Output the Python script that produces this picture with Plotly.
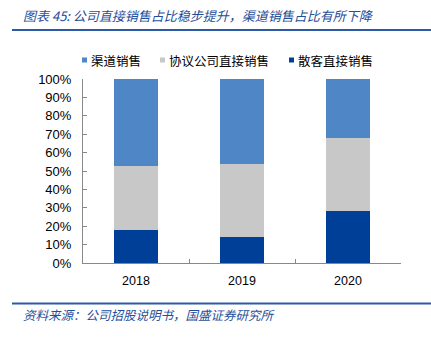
import plotly.graph_objects as go

# Sales channel mix (% of revenue)
years = ["2018", "2019", "2020"]
retail_direct = [17.9, 14.3, 28.4]      # 散客直接销售
agreement_direct = [34.8, 39.7, 39.4]   # 协议公司直接销售
channel_sales = [47.3, 46.0, 32.2]      # 渠道销售

series_names = ["散客直接销售", "协议公司直接销售", "渠道销售"]
series_values = [retail_direct, agreement_direct, channel_sales]
series_colors = ["#003F97", "#C8C8C8", "#4F86C6"]

title_text = "图表 45: 公司直接销售占比稳步提升，渠道销售占比有所下降"
source_text = "资料来源：公司招股说明书，国盛证券研究所"

W, H = 431, 337
L, R, T, B = 83, 30, 79, 74
PW, PH = W - L - R, H - T - B


def px_x(x):
    return (x - L) / PW


def px_y(y):
    return (H - B - y) / PH


fig = go.Figure()
for name, vals, col in zip(series_names, series_values, series_colors):
    fig.add_trace(go.Bar(
        x=years, y=vals, name=name,
        marker=dict(color=col, line=dict(width=0)),
        width=0.41, showlegend=False,
    ))

blue_text = "#1F4E9A"
rule_color = "#2D5AA6"
cjk = "Noto Sans CJK SC"

shapes = [
    dict(type="line", xref="paper", yref="paper",
         x0=px_x(12), x1=px_x(431), y0=px_y(30), y1=px_y(30),
         line=dict(color=rule_color, width=2)),
    dict(type="line", xref="paper", yref="paper",
         x0=px_x(12), x1=px_x(431), y0=px_y(303.5), y1=px_y(303.5),
         line=dict(color=rule_color, width=2)),
]
annotations = [
    dict(text=title_text, xref="paper", yref="paper", x=px_x(21), y=px_y(15),
         xanchor="left", yanchor="middle", showarrow=False,
         font=dict(family=cjk, size=13, color=blue_text, style="italic")),
    dict(text=source_text, xref="paper", yref="paper", x=px_x(21), y=px_y(314),
         xanchor="left", yanchor="middle", showarrow=False,
         font=dict(family=cjk, size=12.5, color=blue_text, style="italic")),
]

# Legend row: listed top series first
legend_marker_x = [82, 160, 289]
legend_order = list(zip(series_names, series_colors))[::-1]
for (name, col), mx in zip(legend_order, legend_marker_x):
    shapes.append(dict(type="rect", xref="paper", yref="paper",
                       x0=px_x(mx), x1=px_x(mx + 5), y0=px_y(62.5), y1=px_y(57.5),
                       fillcolor=col, line=dict(width=0)))
    annotations.append(dict(text=name, xref="paper", yref="paper",
                            x=px_x(mx + 7), y=px_y(60), xanchor="left",
                            yanchor="middle", showarrow=False,
                            font=dict(family=cjk, size=12.5, color="#000000")))

fig.update_layout(
    barmode="stack",
    width=W, height=H,
    margin=dict(l=L, r=R, t=T, b=B, pad=0),
    paper_bgcolor="white", plot_bgcolor="white",
    font=dict(family="Liberation Sans", size=13, color="#000000"),
    shapes=shapes, annotations=annotations,
    showlegend=False,
    bargap=0.59,
)
fig.update_xaxes(
    type="category", showline=True, linecolor="#888888", linewidth=1,
    ticks="inside", ticklen=4, tickcolor="#888888", tickson="boundaries",
    showgrid=False, tickfont=dict(family="Liberation Sans", size=12.5),
    ticklabelstandoff=6,
)
fig.update_yaxes(
    range=[0, 100], dtick=10, ticksuffix="%", showline=True,
    linecolor="#888888", linewidth=1, ticks="inside", ticklen=4,
    tickcolor="#888888", showgrid=False, zeroline=False,
    tickfont=dict(family="Liberation Sans", size=13),
    ticklabelstandoff=8,
)

fig.write_html("out.html")
